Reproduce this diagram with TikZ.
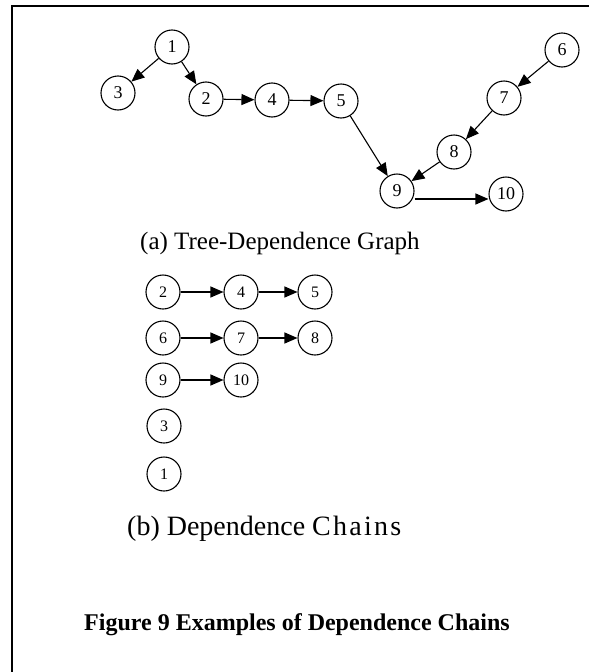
\documentclass[tikz,border=0pt]{standalone}
\usepackage{fontspec}
\setmainfont{Liberation Serif}
\usetikzlibrary{arrows.meta}
\begin{document}
\begin{tikzpicture}[x=1pt,y=-1pt,
  vtx/.style={circle,draw,line width=1.1pt,minimum size=34pt,inner sep=0pt,font=\fontsize{18}{18}\selectfont},
  vtxs/.style={vtx,font=\fontsize{16}{16}\selectfont},
  arr/.style={line width=1.1pt,-{Triangle[length=13pt,width=11pt]}},
  captext/.style={anchor=base west,inner sep=0pt,font=\fontsize{25}{25}\selectfont}]
\useasboundingbox (0,0) rectangle (589,672);
% frame
\draw[line width=2.5pt] (12,672) -- (12,6) -- (589,6);
% (a) tree-dependence graph
\node[vtx] (a1) at (172,47) {1};
\node[vtx] (a3) at (118,93) {3};
\node[vtx] (a2) at (206,99) {2};
\node[vtx] (a4) at (272,100) {4};
\node[vtx] (a5) at (341,101) {5};
\node[vtx] (a6) at (562,50) {6};
\node[vtx] (a7) at (504,98) {7};
\node[vtx] (a8) at (454,152) {8};
\node[vtx] (a9) at (397,191) {9};
\node[vtx] (a10) at (506,194) {10};
\draw[arr] (a1) -- (a3);
\draw[arr] (a1) -- (a2);
\draw[arr] (a2) -- (a4);
\draw[arr] (a4) -- (a5);
\draw[arr] (a5) -- (a9);
\draw[arr] (a6) -- (a7);
\draw[arr] (a7) -- (a8);
\draw[arr] (a8) -- (a9);
\draw[arr] ([yshift=-8pt]a9.east) -- ([yshift=-5pt]a10.west);
\node[captext] (capa) at (140,249) {(a) Tree-Dependence Graph};
% (b) dependence chains
\node[vtxs] (b2) at (163,292) {2};
\node[vtxs] (b4) at (241,292) {4};
\node[vtxs] (b5) at (315,292) {5};
\node[vtxs] (b6) at (163,338) {6};
\node[vtxs] (b7) at (241,338) {7};
\node[vtxs] (b8) at (315,338) {8};
\node[vtxs] (b9) at (163,380) {9};
\node[vtxs] (b10) at (241,380) {10};
\node[vtxs] (b3) at (164,426) {3};
\node[vtxs] (b1) at (164,474) {1};
\draw[arr] (b2) -- (b4);
\draw[arr] (b4) -- (b5);
\draw[arr] (b6) -- (b7);
\draw[arr] (b7) -- (b8);
\draw[arr] (b9) -- (b10);
\node[captext,font=\fontsize{28}{28}\selectfont] (capb) at (127,535) {(b) Dependence {\addfontfeature{LetterSpace=8}Chains}};
% figure caption
\node[anchor=base,inner sep=0pt,font=\fontsize{24}{24}\selectfont\bfseries] (fig) at (297,630) {Figure 9 Examples of Dependence Chains};
\end{tikzpicture}
\end{document}
